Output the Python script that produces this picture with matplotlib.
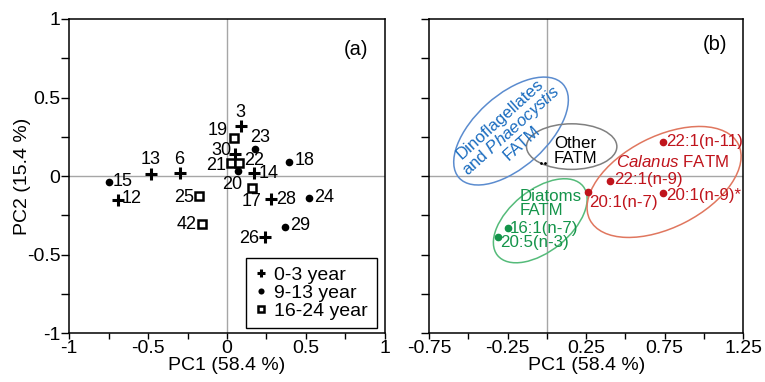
import numpy as np
import matplotlib
matplotlib.use('Agg')
import matplotlib.pyplot as plt
from matplotlib.patches import Ellipse
from matplotlib.lines import Line2D

# ---------------------------
# Data: panel (a) sample scores
# ---------------------------
samples = ['3', '19', '23', '30', '21', '22', '20', '14', '18', '17',
           '28', '24', '29', '26', '25', '42', '13', '6', '15', '12']
pc1_a = [0.087, 0.042, 0.175, 0.053, 0.023, 0.076, 0.068, 0.169, 0.395, 0.156,
         0.278, 0.517, 0.370, 0.239, -0.179, -0.156, -0.485, -0.301, -0.751, -0.694]
pc2_a = [0.318, 0.244, 0.172, 0.144, 0.081, 0.081, 0.034, 0.017, 0.091, -0.074,
         -0.146, -0.138, -0.323, -0.389, -0.125, -0.306, 0.015, 0.017, -0.040, -0.153]
age_group = ['0-3', '16-24', '9-13', '0-3', '16-24', '16-24', '9-13', '0-3', '9-13', '16-24',
             '0-3', '9-13', '9-13', '0-3', '16-24', '16-24', '0-3', '0-3', '9-13', '0-3']

# ---------------------------
# Data: panel (b) fatty acid loadings
# ---------------------------
fatm = ['22:1(n-11)', '22:1(n-9)', '20:1(n-7)', '20:1(n-9)*', '16:1(n-7)', '20:5(n-3)']
pc1_b = [0.740, 0.403, 0.260, 0.739, -0.250, -0.313]
pc2_b = [0.218, -0.030, -0.100, -0.110, -0.330, -0.390]
fatm_group = ['calanus', 'calanus', 'calanus', 'calanus', 'diatom', 'diatom']
other_x = [-0.035, -0.015]
other_y = [0.082, 0.082]

# ---------------------------
# Styles
# ---------------------------
plt.rcParams['font.family'] = ['Liberation Sans', 'DejaVu Sans']
plt.rcParams['font.size'] = 14
plt.rcParams['mathtext.fontset'] = 'custom'
plt.rcParams['mathtext.rm'] = 'Liberation Sans'
plt.rcParams['mathtext.it'] = 'Liberation Sans:italic'

group_style = {
    '0-3': dict(marker='+', ms=8, mew=2.2, mfc='black', mec='black'),
    '9-13': dict(marker='o', ms=5.5, mew=0, mfc='black', mec='black'),
    '16-24': dict(marker='s', ms=6, mew=1.8, mfc='white', mec='black'),
}
legend_names = {'0-3': '0-3 year', '9-13': '9-13 year', '16-24': '16-24 year'}

# label offsets in points: (dx, dy, ha)
lab_off = {
    '3': (0, 10, 'center'), '19': (-4, 5, 'right'), '23': (4, 8.5, 'center'),
    '30': (-3, 2, 'right'), '21': (-3, -1.5, 'right'), '22': (3.5, 2, 'left'),
    '20': (-4, -10, 'center'), '14': (3.5, 0, 'left'), '18': (3.5, 1, 'left'),
    '17': (0, -10, 'center'), '28': (3.5, 0, 'left'), '24': (4, 0, 'left'),
    '29': (3.5, 1, 'left'), '26': (-4, -1, 'right'), '25': (-3.5, -1, 'right'),
    '42': (-4, 0, 'right'), '13': (0, 10, 'center'), '6': (0, 10, 'center'),
    '15': (3, 1, 'left'), '12': (3, 1, 'left'),
}

red = '#c0141c'
green = '#14944a'
blue = '#1a6cbf'

fig = plt.figure(figsize=(7.65, 3.82), dpi=100)
axa = fig.add_axes([0.0906, 0.1275, 0.4124, 0.8228])
axb = fig.add_axes([0.5608, 0.1275, 0.4108, 0.8228])


def style_axes(ax, xticks, xlabels, ylabels):
    ax.axhline(0, color='#a6a6a6', lw=1, zorder=0)
    ax.axvline(0, color='#a6a6a6', lw=1, zorder=0)
    ax.set_ylim(-1, 1)
    ax.set_xticks(xticks)
    ax.set_xticklabels(xlabels)
    ax.set_yticks(np.arange(-1, 1.01, 0.25))
    ax.set_yticklabels(ylabels)
    ax.tick_params(axis='y', direction='out', length=6, width=1, pad=0.5, labelsize=14)
    ax.tick_params(axis='x', direction='out', length=4, width=1, pad=1, labelsize=14)
    for s in ax.spines.values():
        s.set_linewidth(1.1)
    ax.set_xlabel('PC1 (58.4 %)', labelpad=0, fontsize=14)


# ---------------------------
# Panel (a)
# ---------------------------
for i, name in enumerate(samples):
    axa.plot(pc1_a[i], pc2_a[i], ls='none', **group_style[age_group[i]])
    dx, dy, ha = lab_off[name]
    axa.annotate(name, (pc1_a[i], pc2_a[i]), xytext=(dx, dy), textcoords='offset points',
                 ha=ha, va='center', fontsize=13)

axa.set_xlim(-1, 1)
ya = ['-1', '', '-0.5', '', '0', '', '0.5', '', '1']
style_axes(axa, np.arange(-1, 1.01, 0.25), ['-1', '', '-0.5', '', '0', '', '0.5', '', '1'], ya)
axa.set_ylabel('PC2 (15.4 %)', labelpad=-3, fontsize=14)
axa.text(0.815, 0.807, '(a)', fontsize=14.5, ha='center', va='center')

handles = [Line2D([], [], ls='none', **group_style[g]) for g in ['0-3', '9-13', '16-24']]
leg = axa.legend(handles, [legend_names[g] for g in ['0-3', '9-13', '16-24']],
                 loc='lower right', bbox_to_anchor=(0.974, 0.016), borderaxespad=0,
                 fontsize=14, handlelength=0.7, handletextpad=0.3, labelspacing=0.0,
                 borderpad=0.45, fancybox=False, framealpha=1)
leg.get_frame().set_edgecolor('black')
leg.get_frame().set_linewidth(1)
for h in leg.legend_handles:
    h.set_markersize(h.get_markersize() * 0.8)

# ---------------------------
# Panel (b)
# ---------------------------
group_color = {'calanus': red, 'diatom': green}
for i, name in enumerate(fatm):
    axb.plot(pc1_b[i], pc2_b[i], 'o', ms=4.5, color=group_color[fatm_group[i]])
axb.plot(other_x, other_y, 'o', ms=1, color='black')

fatm_off = {
    '22:1(n-11)': (2.5, 0, 'left'), '22:1(n-9)': (2.5, 1, 'left'), '20:1(n-7)': (1, -7.5, 'left'),
    '20:1(n-9)*': (2.5, -1.5, 'left'), '16:1(n-7)': (1.5, 0, 'left'), '20:5(n-3)': (1.5, -3.5, 'left'),
}
for i, name in enumerate(fatm):
    dx, dy, ha = fatm_off[name]
    axb.annotate(name, (pc1_b[i], pc2_b[i]), xytext=(dx, dy), textcoords='offset points',
                 ha=ha, va='center', fontsize=12.2, color=group_color[fatm_group[i]])

axb.add_patch(Ellipse((-0.228, 0.287), 0.89, 0.46, angle=42, fill=False, ec='#5b8ccf', lw=1.1))
axb.add_patch(Ellipse((0.158, 0.188), 0.575, 0.29, angle=0, fill=False, ec='#808080', lw=1.1))
axb.add_patch(Ellipse((-0.042, -0.284), 0.70, 0.39, angle=39, fill=False, ec='#55bb7a', lw=1.1))
axb.add_patch(Ellipse((0.746, -0.037), 1.06, 0.58, angle=27, fill=False, ec='#e0775f', lw=1.1))

axb.text(-0.228, 0.287, 'Dinoflagellates\nand $\\it{Phaeocystis}$\nFATM', rotation=42,
         rotation_mode='anchor', ha='center', va='center', multialignment='center',
         color=blue, fontsize=12.2, linespacing=0.95)
axb.text(0.179, 0.159, 'Other\nFATM', ha='center', va='center', fontsize=12.2, linespacing=1.0)
axb.text(0.80, 0.091, '$\\it{Calanus}$ FATM', ha='center', va='center', fontsize=12.2, color=red)
axb.text(-0.175, -0.175, 'Diatoms\nFATM', ha='left', va='center', fontsize=12.2, color=green,
         linespacing=0.9)

axb.set_xlim(-0.75, 1.25)
style_axes(axb, np.arange(-0.75, 1.26, 0.25),
           ['-0.75', '', '-0.25', '', '0.25', '', '0.75', '', '1.25'], [''] * 9)
axb.text(1.07, 0.84, '(b)', fontsize=14.5, ha='center', va='center')

fig.savefig('out.png', dpi=100)
